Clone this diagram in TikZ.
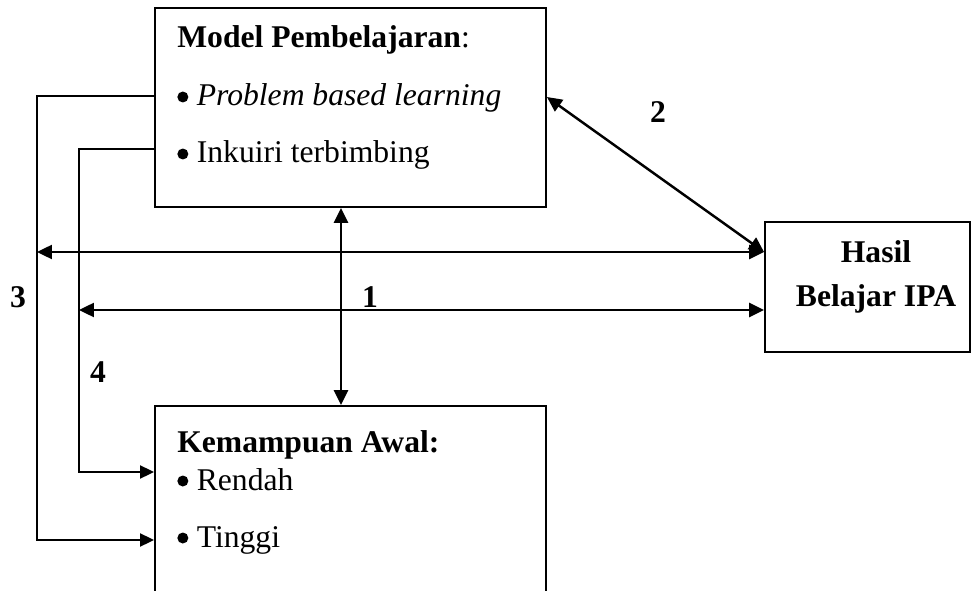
\documentclass[tikz,border=0pt]{standalone}
\usepackage{fontspec}
\setmainfont{Liberation Serif}
\usetikzlibrary{arrows.meta}
\newcommand{\dsize}{\fontsize{18}{22}\selectfont}
\newcommand{\bul}{\tikz[baseline=0pt]\fill (0.11cm,0.18cm) circle (0.11cm);\hspace{0.17cm}}

\begin{document}
\begin{tikzpicture}[x=0.02cm, y=-0.02cm,
  box/.style={draw, line width=1.1pt, inner sep=0pt},
  txt/.style={anchor=base west, inner sep=0pt, font=\dsize},
  num/.style={anchor=base, inner sep=0pt, font=\dsize\bfseries},
  tip/.style={-{Triangle[length=0.28cm,width=0.26cm]}, line width=1.1pt},
  both/.style={{Triangle[length=0.3cm,width=0.28cm]}-{Triangle[length=0.3cm,width=0.28cm]}, line width=1.4pt}]
\useasboundingbox (0,0) rectangle (971,591);
\clip (0,0) rectangle (971,591);

\node[box, minimum width=7.82cm, minimum height=3.98cm] (model) at (350.5,107.5) {};
\node[box, minimum width=7.82cm, minimum height=4.28cm] (kem) at (350.5,513) {};
\node[box, minimum width=4.1cm, minimum height=2.6cm] (hasil) at (867.5,287) {};

\node[txt] (mtitle) at (177,48) {\textbf{Model Pembelajaran}:};
\node[txt] (pbl) at (177,106) {\bul\textit{Problem based learning}};
\node[txt] (ink) at (177,163) {\bul Inkuiri terbimbing};
\node[txt] (ktitle) at (177,453) {\textbf{Kemampuan Awal:}};
\node[txt] (ren) at (177,490) {\bul Rendah};
\node[txt] (tin) at (177,547) {\bul Tinggi};
\node[num] (hasil1) at (876,263) {Hasil};
\node[num] (hasil2) at (876,307) {Belajar IPA};

\node[num] (n1) at (370,308) {1};
\node[num] (n2) at (658,123) {2};
\node[num] (n3) at (18,308) {3};
\node[num] (n4) at (98,382) {4};

\coordinate (c3) at (37,96);
\coordinate (c3b) at (37,540);
\coordinate (c4) at (79,149);
\coordinate (c4b) at (79,472);
\coordinate (e3) at (37,252);
\coordinate (e1) at (79,310);
\coordinate (m2) at (547,97);
\coordinate (vx) at (341,0);

\draw[tip] (c3 -| model.west) -- (c3) -- (c3b) -- (c3b -| kem.west);
\draw[tip] (c4 -| model.west) -- (c4) -- (c4b) -- (c4b -| kem.west);
\draw[both] (e3) -- (e3 -| hasil.west);
\draw[both] (e1) -- (e1 -| hasil.west);
\draw[both] (m2 -| model.east) -- (e3 -| hasil.west);
\draw[both] (vx |- model.south) -- (vx |- kem.north);
\end{tikzpicture}
\end{document}
